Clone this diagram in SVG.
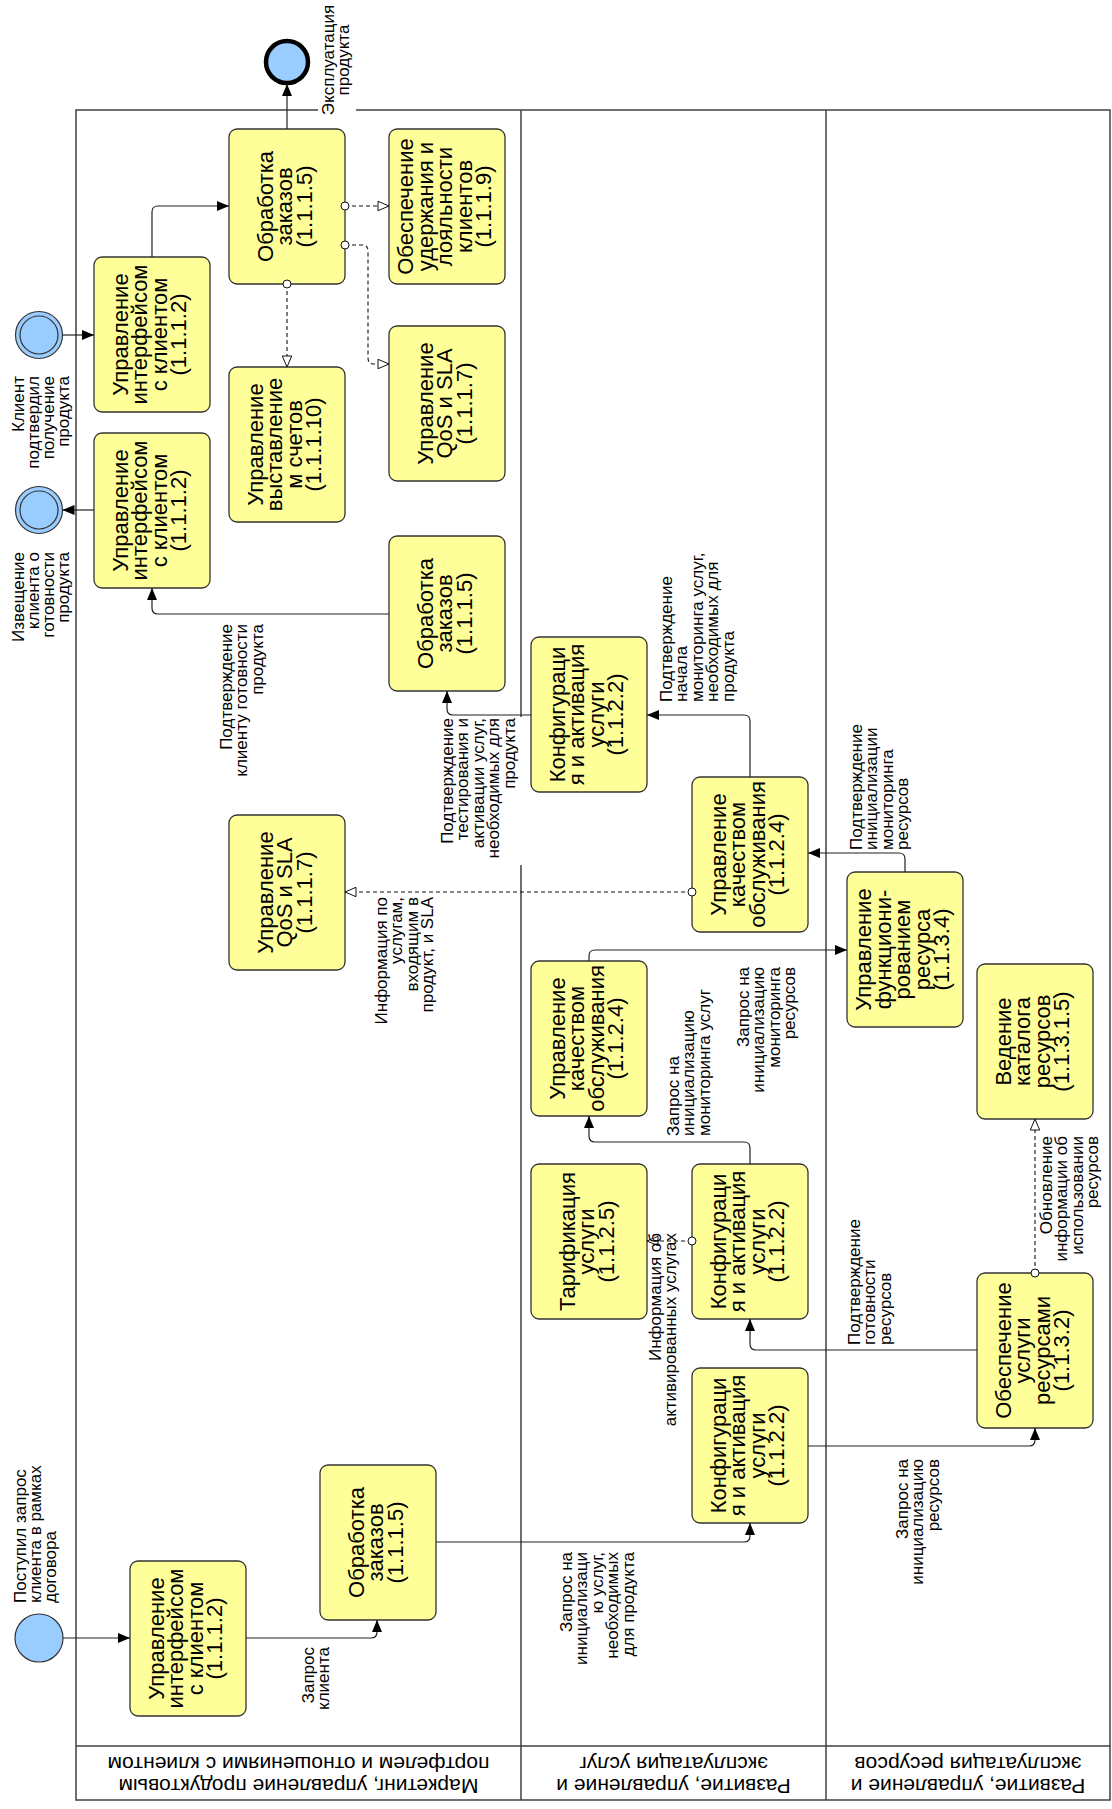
<svg xmlns="http://www.w3.org/2000/svg" width="1112" height="1809" viewBox="0 0 1112 1809">
<style>
  .task rect { fill: #FFFF99; stroke: #333333; stroke-width: 1.3; }
  .tt { font-family: "Liberation Sans", Arial, sans-serif; font-size: 22px; fill: #000; text-anchor: middle; }
  .lbl { font-family: "Liberation Sans", Arial, sans-serif; font-size: 17px; fill: #000; }
  .lane { font-family: "Liberation Sans", Arial, sans-serif; font-size: 21px; fill: #000; text-anchor: middle; }
  .frame { fill: none; stroke: #404040; stroke-width: 1.5; }
  .flow { fill: none; stroke: #222; stroke-width: 1.2; marker-end: url(#arrow); }
  .assoc { fill: none; stroke: #111; stroke-width: 1.1; stroke-dasharray: 4 3; marker-start: url(#dot); marker-end: url(#open); }
  .ev { fill: #99CCFF; stroke: #333; stroke-width: 1.2; }
</style>
<defs>
  <marker id="arrow" viewBox="0 0 12 10" refX="12" refY="5" markerWidth="12" markerHeight="10" markerUnits="userSpaceOnUse" orient="auto">
    <path d="M0,0 L12,5 L0,10 z" fill="#000"/>
  </marker>
  <marker id="open" viewBox="0 0 13 11" refX="12" refY="5.5" markerWidth="13" markerHeight="11" markerUnits="userSpaceOnUse" orient="auto">
    <path d="M1,0.8 L12,5.5 L1,10.2 z" fill="#fff" stroke="#111" stroke-width="1"/>
  </marker>
  <marker id="dot" viewBox="0 0 10 10" refX="5" refY="5" markerWidth="10" markerHeight="10" markerUnits="userSpaceOnUse" orient="auto">
    <circle cx="5" cy="5" r="4" fill="#fff" stroke="#111" stroke-width="1"/>
  </marker>
</defs>

<rect width="1112" height="1809" fill="#fff"/>

<!-- pool and lanes -->
<g id="pool">
  <rect class="frame" x="76" y="110" width="1034" height="1690"/>
  <line class="frame" x1="521" y1="110" x2="521" y2="1800"/>
  <line class="frame" x1="826" y1="110" x2="826" y2="1800"/>
  <line class="frame" x1="76" y1="1746" x2="1110" y2="1746"/>
  <text class="lane" transform="translate(298.5,1773) rotate(180)"><tspan x="0" y="-5.5">Маркетинг, управление продуктовым</tspan><tspan x="0" y="16.5">портфелем и отношениями с клиентом</tspan></text>
  <text class="lane" transform="translate(673.5,1773) rotate(180)"><tspan x="0" y="-5.5">Развитие, управление и</tspan><tspan x="0" y="16.5">эксплуатация услуг</tspan></text>
  <text class="lane" transform="translate(968,1773) rotate(180)"><tspan x="0" y="-5.5">Развитие, управление и</tspan><tspan x="0" y="16.5">эксплуатация ресурсов</tspan></text>
</g>

<!-- events -->
<g id="ev-end">
  <circle cx="287" cy="62" r="21" fill="#99CCFF" stroke="#000" stroke-width="4.5"/>
  <rect x="318" y="98" width="38" height="20" fill="#fff"/>
  <text class="lbl" text-anchor="middle" transform="translate(334,60) rotate(-90)"><tspan x="0" y="0">Эксплуатация</tspan><tspan x="0" y="15">продукта</tspan></text>
</g>
<g id="ev-confirm">
  <circle class="ev" cx="39" cy="335" r="23.5"/>
  <circle class="ev" cx="39" cy="335" r="19"/>
  <text class="lbl" text-anchor="end" transform="translate(23.5,376) rotate(-90)"><tspan x="0" y="0">Клиент</tspan><tspan x="0" y="15">подтвердил</tspan><tspan x="0" y="30">получение</tspan><tspan x="0" y="45">продукта</tspan></text>
</g>
<g id="ev-notify">
  <circle class="ev" cx="39" cy="510" r="23.5"/>
  <circle class="ev" cx="39" cy="510" r="19"/>
  <text class="lbl" text-anchor="end" transform="translate(24,552) rotate(-90)"><tspan x="0" y="0">Извещение</tspan><tspan x="0" y="15">клиента о</tspan><tspan x="0" y="30">готовности</tspan><tspan x="0" y="45">продукта</tspan></text>
</g>
<g id="ev-start">
  <circle class="ev" cx="39" cy="1638" r="24"/>
  <text class="lbl" text-anchor="start" transform="translate(25.5,1603) rotate(-90)"><tspan x="0" y="0">Поступил запрос</tspan><tspan x="0" y="15">клиента в рамках</tspan><tspan x="0" y="30">договора</tspan></text>
</g>

<!-- tasks -->
<g id="t1" class="task"><rect x="229" y="129" width="116" height="155" rx="8"/>
  <text class="tt" transform="translate(287,206.5) rotate(-90)"><tspan x="0" y="-14.5">Обработка</tspan><tspan x="0" y="5">заказов</tspan><tspan x="0" y="24.5">(1.1.1.5)</tspan></text></g>
<g id="t2" class="task"><rect x="389" y="129" width="116" height="155" rx="8"/>
  <text class="tt" transform="translate(447,206.5) rotate(-90)"><tspan x="0" y="-34">Обеспечение</tspan><tspan x="0" y="-14.5">удержания и</tspan><tspan x="0" y="5">лояльности</tspan><tspan x="0" y="24.5">клиентов</tspan><tspan x="0" y="44">(1.1.1.9)</tspan></text></g>
<g id="t3" class="task"><rect x="94" y="257" width="116" height="155" rx="8"/>
  <text class="tt" transform="translate(152,334.5) rotate(-90)"><tspan x="0" y="-24.25">Управление</tspan><tspan x="0" y="-4.75">интерфейсом</tspan><tspan x="0" y="14.75">с клиентом</tspan><tspan x="0" y="34.25">(1.1.1.2)</tspan></text></g>
<g id="t4" class="task"><rect x="229" y="367" width="116" height="155" rx="8"/>
  <text class="tt" transform="translate(287,444.5) rotate(-90)"><tspan x="0" y="-24.25">Управление</tspan><tspan x="0" y="-4.75">выставление</tspan><tspan x="0" y="14.75">м счетов</tspan><tspan x="0" y="34.25">(1.1.1.10)</tspan></text></g>
<g id="t5" class="task"><rect x="389" y="326" width="116" height="155" rx="8"/>
  <text class="tt" transform="translate(447,403.5) rotate(-90)"><tspan x="0" y="-14.5">Управление</tspan><tspan x="0" y="5">QoS и SLA</tspan><tspan x="0" y="24.5">(1.1.1.7)</tspan></text></g>
<g id="t6" class="task"><rect x="94" y="433" width="116" height="155" rx="8"/>
  <text class="tt" transform="translate(152,510.5) rotate(-90)"><tspan x="0" y="-24.25">Управление</tspan><tspan x="0" y="-4.75">интерфейсом</tspan><tspan x="0" y="14.75">с клиентом</tspan><tspan x="0" y="34.25">(1.1.1.2)</tspan></text></g>
<g id="t7" class="task"><rect x="389" y="536" width="116" height="155" rx="8"/>
  <text class="tt" transform="translate(447,613.5) rotate(-90)"><tspan x="0" y="-14.5">Обработка</tspan><tspan x="0" y="5">заказов</tspan><tspan x="0" y="24.5">(1.1.1.5)</tspan></text></g>
<g id="t8" class="task"><rect x="531" y="637" width="116" height="155" rx="8"/>
  <text class="tt" transform="translate(589,714.5) rotate(-90)"><tspan x="0" y="-24.25">Конфигураци</tspan><tspan x="0" y="-4.75">я и активация</tspan><tspan x="0" y="14.75">услуги</tspan><tspan x="0" y="34.25">(1.1.2.2)</tspan></text></g>
<g id="t9" class="task"><rect x="229" y="815" width="116" height="155" rx="8"/>
  <text class="tt" transform="translate(287,892.5) rotate(-90)"><tspan x="0" y="-14.5">Управление</tspan><tspan x="0" y="5">QoS и SLA</tspan><tspan x="0" y="24.5">(1.1.1.7)</tspan></text></g>
<g id="t10" class="task"><rect x="692" y="777" width="116" height="155" rx="8"/>
  <text class="tt" transform="translate(750,854.5) rotate(-90)"><tspan x="0" y="-24.25">Управление</tspan><tspan x="0" y="-4.75">качеством</tspan><tspan x="0" y="14.75">обслуживания</tspan><tspan x="0" y="34.25">(1.1.2.4)</tspan></text></g>
<g id="t11" class="task"><rect x="847" y="872" width="116" height="155" rx="8"/>
  <text class="tt" transform="translate(905,949.5) rotate(-90)"><tspan x="0" y="-34">Управление</tspan><tspan x="0" y="-14.5">функциони-</tspan><tspan x="0" y="5">рованием</tspan><tspan x="0" y="24.5">ресурса</tspan><tspan x="0" y="44">(1.1.3.4)</tspan></text></g>
<g id="t12" class="task"><rect x="531" y="961" width="116" height="155" rx="8"/>
  <text class="tt" transform="translate(589,1038.5) rotate(-90)"><tspan x="0" y="-24.25">Управление</tspan><tspan x="0" y="-4.75">качеством</tspan><tspan x="0" y="14.75">обслуживания</tspan><tspan x="0" y="34.25">(1.1.2.4)</tspan></text></g>
<g id="t13" class="task"><rect x="977" y="964" width="116" height="155" rx="8"/>
  <text class="tt" transform="translate(1035,1041.5) rotate(-90)"><tspan x="0" y="-24.25">Ведение</tspan><tspan x="0" y="-4.75">каталога</tspan><tspan x="0" y="14.75">ресурсов</tspan><tspan x="0" y="34.25">(1.1.3.1.5)</tspan></text></g>
<g id="t14" class="task"><rect x="531" y="1164" width="116" height="155" rx="8"/>
  <text class="tt" transform="translate(589,1241.5) rotate(-90)"><tspan x="0" y="-14.5">Тарификация</tspan><tspan x="0" y="5">услуги</tspan><tspan x="0" y="24.5">(1.1.2.5)</tspan></text></g>
<g id="t15" class="task"><rect x="692" y="1164" width="116" height="155" rx="8"/>
  <text class="tt" transform="translate(750,1241.5) rotate(-90)"><tspan x="0" y="-24.25">Конфигураци</tspan><tspan x="0" y="-4.75">я и активация</tspan><tspan x="0" y="14.75">услуги</tspan><tspan x="0" y="34.25">(1.1.2.2)</tspan></text></g>
<g id="t16" class="task"><rect x="977" y="1273" width="116" height="155" rx="8"/>
  <text class="tt" transform="translate(1035,1350.5) rotate(-90)"><tspan x="0" y="-24.25">Обеспечение</tspan><tspan x="0" y="-4.75">услуги</tspan><tspan x="0" y="14.75">ресурсами</tspan><tspan x="0" y="34.25">(1.1.3.2)</tspan></text></g>
<g id="t17" class="task"><rect x="692" y="1368" width="116" height="155" rx="8"/>
  <text class="tt" transform="translate(750,1445.5) rotate(-90)"><tspan x="0" y="-24.25">Конфигураци</tspan><tspan x="0" y="-4.75">я и активация</tspan><tspan x="0" y="14.75">услуги</tspan><tspan x="0" y="34.25">(1.1.2.2)</tspan></text></g>
<g id="t18" class="task"><rect x="320" y="1465" width="116" height="155" rx="8"/>
  <text class="tt" transform="translate(378,1542.5) rotate(-90)"><tspan x="0" y="-14.5">Обработка</tspan><tspan x="0" y="5">заказов</tspan><tspan x="0" y="24.5">(1.1.1.5)</tspan></text></g>
<g id="t19" class="task"><rect x="130" y="1561" width="116" height="155" rx="8"/>
  <text class="tt" transform="translate(188,1638.5) rotate(-90)"><tspan x="0" y="-24.25">Управление</tspan><tspan x="0" y="-4.75">интерфейсом</tspan><tspan x="0" y="14.75">с клиентом</tspan><tspan x="0" y="34.25">(1.1.1.2)</tspan></text></g>

<!-- connectors and their labels -->
<g id="connectors">
  <path class="flow" d="M63,1638 H130"/>
  <path class="flow" d="M246,1638 H371 Q377,1638 377,1632 V1620"/>
  <path class="flow" d="M436,1542 H744 Q750,1542 750,1536 V1523"/>
  <path class="flow" d="M808,1446 H1029 Q1035,1446 1035,1440 V1428"/>
  <path class="flow" d="M977,1350 H756 Q750,1350 750,1344 V1319"/>
  <path class="flow" d="M750,1164 V1148 Q750,1142 744,1142 H595 Q589,1142 589,1136 V1116"/>
  <path class="flow" d="M589,961 V956 Q589,950 595,950 H847"/>
  <path class="flow" d="M905,872 V859 Q905,853 899,853 H808"/>
  <path class="flow" d="M750,777 V721 Q750,715 744,715 H647"/>
  <path class="flow" d="M531,715 H453 Q447,715 447,709 V691"/>
  <path class="flow" d="M389,614 H158 Q152,614 152,608 V588"/>
  <path class="flow" d="M94,510 H62.5"/>
  <path class="flow" d="M62.5,335 H94"/>
  <path class="flow" d="M152,257 V212 Q152,206 158,206 H229"/>
  <path class="flow" d="M287,129 V84"/>

  <path class="assoc" d="M345,206 H389"/>
  <path class="assoc" d="M345,245 H362 Q368,245 368,251 V358 Q368,364 374,364 H389"/>
  <path class="assoc" d="M287,284 V367"/>
  <path class="assoc" d="M692,892 H345"/>
  <path class="assoc" d="M692,1241 H647"/>
  <path class="assoc" d="M1035,1273 V1119"/>

  <text class="lbl" text-anchor="end" transform="translate(231.5,624) rotate(-90)"><tspan x="0" y="0">Подтверждение</tspan><tspan x="0" y="15.5">клиенту готовности</tspan><tspan x="0" y="31">продукта</tspan></text>
  <rect x="439" y="717" width="84" height="148" fill="#fff"/>
  <text class="lbl" text-anchor="end" transform="translate(452.5,718) rotate(-90)"><tspan x="0" y="0">Подтверждение</tspan><tspan x="0" y="15.5">тестирования и</tspan><tspan x="0" y="31">активации услуг,</tspan><tspan x="0" y="46.5">необходимых для</tspan><tspan x="0" y="62">продукта</tspan></text>
  <text class="lbl" text-anchor="end" transform="translate(386.5,897) rotate(-90)"><tspan x="0" y="0">Информация по</tspan><tspan x="0" y="15.5">услугам,</tspan><tspan x="0" y="31">входящим в</tspan><tspan x="0" y="46.5">продукт, и SLA</tspan></text>
  <text class="lbl" text-anchor="start" transform="translate(671.5,702) rotate(-90)"><tspan x="0" y="0">Подтверждение</tspan><tspan x="0" y="15.5">начала</tspan><tspan x="0" y="31">мониторинга услуг,</tspan><tspan x="0" y="46.5">необходимых для</tspan><tspan x="0" y="62">продукта</tspan></text>
  <text class="lbl" text-anchor="start" transform="translate(861.5,850) rotate(-90)"><tspan x="0" y="0">Подтверждение</tspan><tspan x="0" y="15.5">инициализации</tspan><tspan x="0" y="31">мониторинга</tspan><tspan x="0" y="46.5">ресурсов</tspan></text>
  <text class="lbl" text-anchor="end" transform="translate(748.5,967) rotate(-90)"><tspan x="0" y="0">Запрос на</tspan><tspan x="0" y="15.5">инициализацию</tspan><tspan x="0" y="31">мониторинга</tspan><tspan x="0" y="46.5">ресурсов</tspan></text>
  <text class="lbl" text-anchor="start" transform="translate(678.5,1136) rotate(-90)"><tspan x="0" y="0">Запрос на</tspan><tspan x="0" y="15.5">инициализацию</tspan><tspan x="0" y="31">мониторинга услуг</tspan></text>
  <text class="lbl" text-anchor="end" transform="translate(660.5,1233) rotate(-90)"><tspan x="0" y="0">Информация об</tspan><tspan x="0" y="15.5">активированных услугах</tspan></text>
  <text class="lbl" text-anchor="start" transform="translate(859.5,1345) rotate(-90)"><tspan x="0" y="0">Подтверждение</tspan><tspan x="0" y="15.5">готовности</tspan><tspan x="0" y="31">ресурсов</tspan></text>
  <text class="lbl" text-anchor="end" transform="translate(1051.5,1136) rotate(-90)"><tspan x="0" y="0">Обновление</tspan><tspan x="0" y="15.5">информации об</tspan><tspan x="0" y="31">использовании</tspan><tspan x="0" y="46.5">ресурсов</tspan></text>
  <text class="lbl" text-anchor="end" transform="translate(907.5,1459) rotate(-90)"><tspan x="0" y="0">Запрос на</tspan><tspan x="0" y="15.5">инициализацию</tspan><tspan x="0" y="31">ресурсов</tspan></text>
  <text class="lbl" text-anchor="end" transform="translate(571.5,1552) rotate(-90)"><tspan x="0" y="0">Запрос на</tspan><tspan x="0" y="15.5">инициализаци</tspan><tspan x="0" y="31">ю услуг,</tspan><tspan x="0" y="46.5">необходимых</tspan><tspan x="0" y="62">для продукта</tspan></text>
  <text class="lbl" text-anchor="end" transform="translate(313.5,1647) rotate(-90)"><tspan x="0" y="0">Запрос</tspan><tspan x="0" y="15.5">клиента</tspan></text>
</g>
</svg>
